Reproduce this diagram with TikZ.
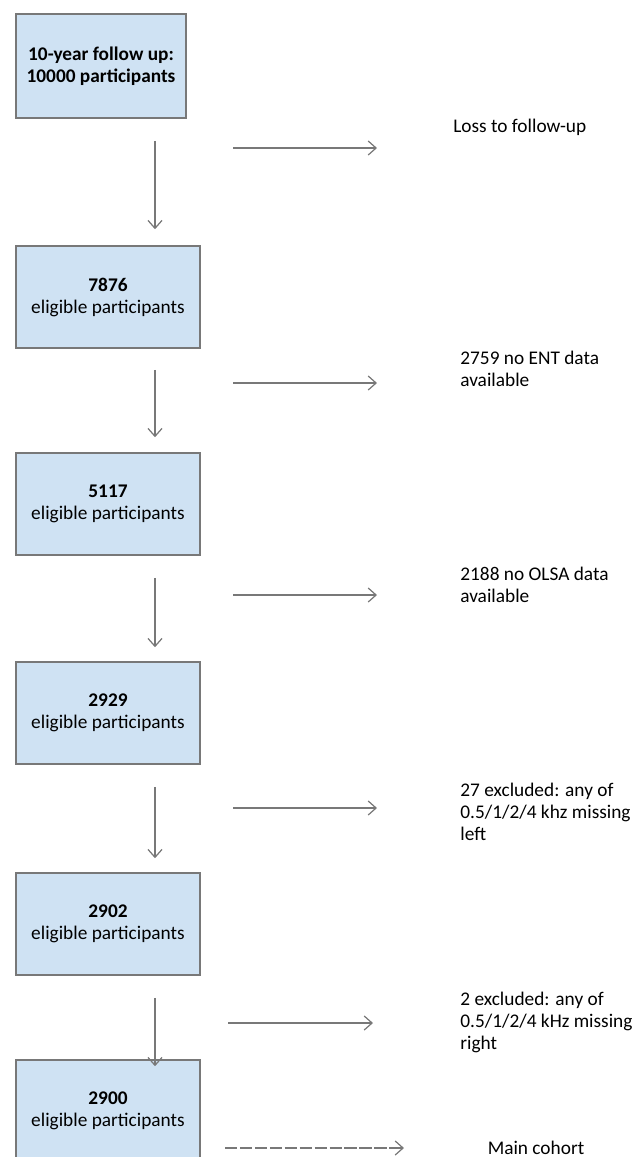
\documentclass[tikz,border=0pt]{standalone}
\usepackage{fontspec}
\setmainfont{Carlito}
\usetikzlibrary{arrows.meta}
\definecolor{boxblue}{RGB}{207,226,243}
\definecolor{linegray}{RGB}{120,120,120}
\tikzset{
  stagebox/.style={draw=linegray, line width=0.9pt, fill=boxblue, minimum width=3.68cm,
    minimum height=2.04cm, align=center, inner sep=0pt, font=\fontsize{11}{12.5}\selectfont},
  sidenote/.style={anchor=west, align=left, inner sep=0pt, font=\fontsize{11}{12.5}\selectfont},
  flowarr/.style={draw=linegray, line width=0.7pt, -{Straight Barb[length=4.5pt,width=8pt]}},
}

\begin{document}
\begin{tikzpicture}[x=0.02cm, y=-0.02cm]
  \useasboundingbox (0,0) rectangle (643,1157);
  % left column
  \node[stagebox, minimum width=3.4cm, minimum height=2.08cm, font=\fontsize{11}{12.5}\selectfont\bfseries]
    (b1) at (101,66) {10-year follow up:\\10000 participants};
  \node[stagebox] (b2) at (108,297) {\textbf{7876}\\eligible participants};
  \node[stagebox] (b3) at (108,504) {\textbf{5117}\\eligible participants};
  \node[stagebox] (b4) at (108,713) {\textbf{2929}\\eligible participants};
  \node[stagebox] (b5) at (108,924) {\textbf{2902}\\eligible participants};
  \node[stagebox] (b6) at (108,1111) {\textbf{2900}\\eligible participants};
  \draw[flowarr] ([shift={(54,22)}]b1.south) -- ([shift={(47,-16)}]b2.north);
  \draw[flowarr] ([shift={(47,21)}]b2.south) -- ([shift={(47,-15)}]b3.north);
  \draw[flowarr] ([shift={(47,22)}]b3.south) -- ([shift={(47,-14)}]b4.north);
  \draw[flowarr] ([shift={(47,22)}]b4.south) -- ([shift={(47,-14)}]b5.north);
  \draw[flowarr] ([shift={(47,22)}]b5.south) -- ([shift={(47,7)}]b6.north);
  % right column
  \node[sidenote] (loss) at (453,127) {Loss to follow-up};
  \node[sidenote] (ent) at (460,369) {2759 no ENT data\\available};
  \node[sidenote] (olsa) at (460,585) {2188 no OLSA data\\available};
  \node[sidenote] (exl) at (460,812) {27 excluded: any of\\0.5/1/2/4 khz missing\\left};
  \node[sidenote] (exr) at (460,1022) {2 excluded: any of\\0.5/1/2/4 kHz missing\\right};
  \node[sidenote, anchor=center] (main) at (536,1148) {Main cohort};
  \coordinate (h1s) at (233,148);  \coordinate (h1e) at (377,148);
  \coordinate (h2s) at (233,383);  \coordinate (h2e) at (377,383);
  \coordinate (h3s) at (233,595);  \coordinate (h3e) at (377,595);
  \coordinate (h4s) at (233,808);  \coordinate (h4e) at (377,808);
  \coordinate (h5s) at (228,1023); \coordinate (h5e) at (373,1023);
  \coordinate (h6s) at (225,1148); \coordinate (h6e) at (404,1148);
  \draw[flowarr] (h1s) -- (h1e);
  \draw[flowarr] (h2s) -- (h2e);
  \draw[flowarr] (h3s) -- (h3e);
  \draw[flowarr] (h4s) -- (h4e);
  \draw[flowarr] (h5s) -- (h5e);
  \draw[flowarr, dash pattern=on 7pt off 1.5pt] (h6s) -- (h6e);
\end{tikzpicture}
\end{document}
